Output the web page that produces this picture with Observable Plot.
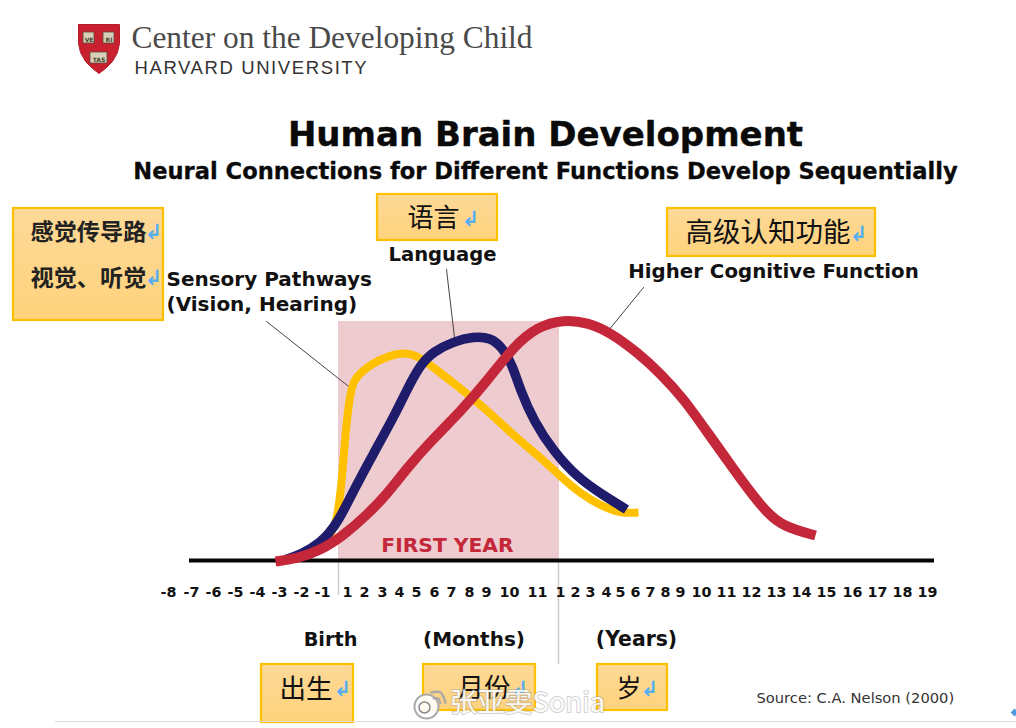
<!DOCTYPE html>
<html><head><meta charset="utf-8">
<script src="https://cdn.jsdelivr.net/npm/d3@7"></script>
<script src="https://cdn.jsdelivr.net/npm/@observablehq/plot@0.6"></script>
<style>html,body{margin:0;padding:0;background:#fff;overflow:hidden}svg{display:block}</style>
</head><body><div id="chart"></div>
<script>
// Curves (image coordinates)
const sensoryX = [315,326,336,341,345,349,353,360,373,390,403,417,433,460,487,513,540,560,580,600,620,638];
const sensoryY = [550,540,525,485,432,397,380,372,362,355,352,355,367,388,410,435,457,476,493,505,513,512];
const languageX = [285,300,320,337,353,373,393,407,420,433,453,473,490,502,512,520,533,553,577,600,626];
const languageY = [559,554,543,523,490,453,417,388,364,351,341,336,337,347,365,390,420,451,477,493,509];
const higherX = [275,297,320,343,367,387,407,430,460,487,513,537,563,587,610,637,660,683,707,727,747,767,783,815];
const higherY = [561,558,550,535,514,493,467,441,411,380,346,326,319,322,332,352,373,398,432,460,488,513,526,535];
const tickLabels = ["-8","-7","-6","-5","-4","-3","-2","-1","1","2","3","4","5","6","7","8","9","10","11","1","2","3","4","5","6","7","8","9","10","11","12","13","14","15","16","17","18","19"];
const tickXs = [168,191,213,235,257,279,301,322,347,364,382,399,416,434,451,469,486,509,537,560,575,590,606,620,635,650,665,680,701,726,751,776,801,826,852,877,902,927];
const shieldX = [78,119,119,117,112,105,98.5,92,85,80,78,78];
const shieldY = [24,24,43,52,61,68,73,68,61,52,43,24];

const sans = "'DejaVu Sans',Verdana,sans-serif";
const cjk = "'Noto Sans CJK SC',sans-serif";
const serif = "'Liberation Serif',serif";
const gold = "#ffc000", navy = "#1f1c6b", red = "#c4273a";

const label = (t, x, y, o = {}) => Plot.text([t], {x, y, fontFamily: sans, fontWeight: "bold", fill: "#111", textAnchor: "start", lineAnchor: "bottom", ...o});
const box = (x1, y1, x2, y2) => Plot.rect([0], {x1, y1, x2, y2, fill: "url(#boxFill)", stroke: gold, strokeWidth: 2.2});
const path = (xs, ys, o) => Plot.line(xs.map((x, i) => [x, ys[i]]), {x: d => d[0], y: d => d[1], ...o});
const leader = (xs, ys) => path(xs, ys, {stroke: "#444", strokeWidth: 1});
const curve = (xs, ys, stroke, strokeWidth) => path(xs, ys, {stroke, strokeWidth, curve: "basis", strokeLinecap: "butt", strokeLinejoin: "round"});
const cn = (t, x, y, size, o = {}) => label(t, x, y, {fontFamily: cjk, fontWeight: "normal", fontSize: size, lineAnchor: "middle", ...o});
const arrow = (x, y) => label("↲", x, y, {fontFamily: "'DejaVu Sans'", fontWeight: "bold", fill: "#57aef0", fontSize: 21, lineAnchor: "middle", textAnchor: "middle"});

const plot = Plot.plot({
  width: 1016, height: 728, margin: 0,
  x: {domain: [0, 1016], range: [0, 1016], axis: null},
  y: {domain: [0, 728], range: [0, 728], axis: null},
  marks: [
    // logo
    path(shieldX, shieldY, {fill: "#c8202f", stroke: "#b51d2b", strokeWidth: 1}),
    Plot.rect([0], {x1: 83, y1: 32, x2: 94, y2: 43, fill: "#d9cfb8", stroke: "#5a4a38", strokeWidth: .8}),
    Plot.rect([0], {x1: 103, y1: 32, x2: 114, y2: 43, fill: "#d9cfb8", stroke: "#5a4a38", strokeWidth: .8}),
    Plot.rect([0], {x1: 90, y1: 52, x2: 107, y2: 63, fill: "#d9cfb8", stroke: "#5a4a38", strokeWidth: .8}),
    label("VE", 88.5, 41, {fontSize: 6, fill: "#443", textAnchor: "middle"}),
    label("RI", 108.5, 41, {fontSize: 6, fill: "#443", textAnchor: "middle"}),
    label("TAS", 98.5, 61, {fontSize: 6, fill: "#443", textAnchor: "middle"}),
    label("Center on the Developing Child", 131, 47, {fontFamily: serif, fontWeight: "normal", fontSize: 31.4, fill: "#4a4a4a"}),
    label("HARVARD UNIVERSITY", 134, 73.5, {fontFamily: "'Liberation Sans',sans-serif", fontWeight: "normal", fontSize: 18.5, fill: "#333"}),
    // titles
    label("Human Brain Development", 545, 145, {fontSize: 34, textAnchor: "middle", fill: "#0a0a0a", stroke: "#0a0a0a", strokeWidth: .4}),
    label("Neural Connections for Different Functions Develop Sequentially", 545, 178.5, {fontSize: 22.6, textAnchor: "middle", fill: "#0a0a0a", stroke: "#0a0a0a", strokeWidth: .3}),
    // first-year band
    Plot.rect([0], {x1: 338, y1: 321, x2: 559, y2: 560, fill: "#eecbce"}),
    Plot.ruleX([338], {y1: 560, y2: 595, stroke: "#ccc", strokeWidth: 1.5}),
    Plot.ruleX([558], {y1: 560, y2: 664, stroke: "#ccc", strokeWidth: 1.5}),
    Plot.ruleY([560], {x1: 189, x2: 934, stroke: "#050505", strokeWidth: 4}),
    label("FIRST YEAR", 447, 551.5, {fontSize: 20.3, fill: red, textAnchor: "middle"}),
    // leaders
    leader([266, 352], [321, 389]),
    leader([446, 454], [269, 337]),
    leader([643, 608], [287, 330]),
    // curves
    curve(sensoryX, sensoryY, gold, 8),
    curve(languageX, languageY, navy, 9.5),
    curve(higherX, higherY, red, 10),
    // curve labels
    label("Sensory Pathways", 166, 285.5, {fontSize: 20}),
    label("(Vision, Hearing)", 166, 310, {fontSize: 20}),
    label("Language", 442, 260, {fontSize: 19.6, textAnchor: "middle"}),
    label("Higher Cognitive Function", 773, 277, {fontSize: 19.8, textAnchor: "middle"}),
    // tick labels
    Plot.text(tickLabels, {x: (d, i) => tickXs[i], y: tickLabels.map(() => 592), text: d => d, fontFamily: sans, fontWeight: "bold", fontSize: 14.3, fill: "#111", lineAnchor: "middle"}),
    label("Birth", 330, 645, {fontSize: 19.3, textAnchor: "middle"}),
    label("(Months)", 473.5, 645, {fontSize: 20, textAnchor: "middle"}),
    label("(Years)", 636, 645, {fontSize: 20.4, textAnchor: "middle"}),
    label("Source: C.A. Nelson (2000)", 756, 702.5, {fontWeight: "normal", fontSize: 14.7, fill: "#333"}),
    // Chinese annotation boxes
    box(13, 208, 163, 320),
    cn("感觉传导路", 30, 232, 23.2, {fontWeight: "bold", fill: "#222"}), arrow(153, 232),
    cn("视觉、听觉", 30, 278, 23.2, {fontWeight: "bold", fill: "#222"}), arrow(153, 278),
    box(377, 194, 497, 240),
    cn("语言", 407, 218, 26), arrow(470, 219),
    box(667, 208, 875, 256),
    cn("高级认知功能", 685, 233, 27.5), arrow(858, 234),
    box(261, 664, 353, 722),
    cn("出生", 279, 689, 26.5), arrow(342, 689),
    box(423, 664, 535, 710),
    cn("月份", 457, 688, 26.5), arrow(519, 689),
    box(597, 664, 667, 710),
    cn("岁", 616, 688, 25), arrow(649, 689),
    // footer rule and marker
    Plot.ruleY([721], {x1: 55, x2: 1016, stroke: "#ddd", strokeWidth: 1}),
    Plot.dot([0], {x: 1014, y: 712, r: 3.5, fill: "#4a9be0", symbol: "diamond2"}),
    // watermark
    Plot.dot([0], {x: 426, y: 706, r: 12, fill: "#fff", stroke: "#aaa", strokeWidth: 2, fillOpacity: .9}),
    Plot.dot([0], {x: 424, y: 707, r: 5.5, fill: "none", stroke: "#888", strokeWidth: 1.5}),
    path([431, 440, 445], [692, 692, 702], {stroke: "#aaa", strokeWidth: 2.5, curve: "natural"}),
    path([433, 438, 440], [698, 698, 703], {stroke: "#aaa", strokeWidth: 2, curve: "natural"}),
    Plot.text(["张亚雯Sonia"], {x: 527, y: 703, fontFamily: cjk, fontSize: 27.5, fill: "#fff", fillOpacity: .92, stroke: "#999", strokeWidth: 2, strokeOpacity: .45, paintOrder: "stroke", lineAnchor: "middle"})
  ]
});
const defs = d3.select(plot).insert("defs", ":first-child");
const g = defs.append("linearGradient").attr("id", "boxFill").attr("x1", 0).attr("y1", 0).attr("x2", 0).attr("y2", 1);
g.append("stop").attr("offset", "0%").attr("stop-color", "#fdd998");
g.append("stop").attr("offset", "100%").attr("stop-color", "#ffd37c");
d3.select(plot).selectAll("text").filter(function () { return this.textContent === "HARVARD UNIVERSITY"; }).style("letter-spacing", "1.6px");
document.getElementById("chart").append(plot);
</script></body></html>
